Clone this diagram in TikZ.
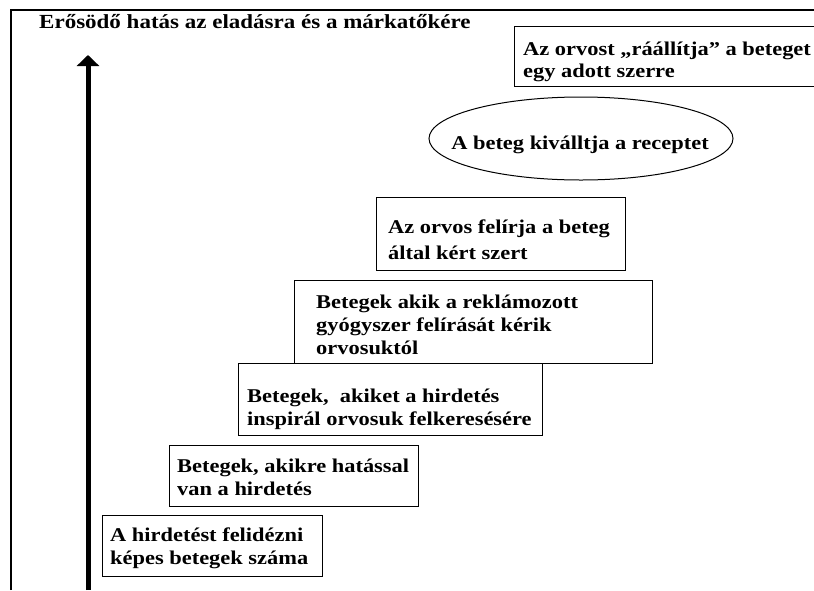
\documentclass[tikz,border=0pt]{standalone}
\usepackage{fontspec}
\setmainfont[FakeStretch=1.15]{Liberation Serif}
\usetikzlibrary{arrows.meta,shapes.geometric}

\tikzset{
  stepbox/.style={draw=black, line width=1pt, fill=white, inner sep=0pt,
    anchor=north west},
  steptext/.style={anchor=north west, inner sep=0pt, align=left,
    font=\fontsize{19.5}{23}\selectfont\bfseries},
  steptextwide/.style={steptext, font=\fontsize{19.5}{26}\selectfont\bfseries},
  titletext/.style={anchor=base west, inner sep=0pt,
    font=\fontsize{20}{23}\selectfont\bfseries},
  frameline/.style={line width=1.4pt, black},
  growarrow/.style={line width=5pt, -{Triangle[length=11pt,width=22pt]}}
}

\begin{document}
\begin{tikzpicture}[x=1pt,y=-1pt]
  \useasboundingbox (0,0) rectangle (814,590);

  % outer frame (top and left edges)
  \coordinate (fTL) at (11,10);
  \coordinate (fTR) at (814,10);
  \coordinate (fBL) at (11,590);
  \draw[frameline] (fBL) -- (fTL) -- (fTR);

  % heading
  \node[titletext] (title) at (39,28)
    {Erősödő hatás az eladásra és a márkatőkére};

  % vertical arrow
  \coordinate (abase) at (88,590);
  \coordinate (atip) at (88,55);
  \draw[growarrow] (abase) -- (atip);

  % staircase of boxes
  \node[stepbox, minimum width=220pt, minimum height=61pt] (b1) at (102,515) {};
  \node[steptext] (t1) at (110,524.9) {\strut A hirdetést felidézni\\képes betegek száma};

  \node[stepbox, minimum width=249pt, minimum height=61pt] (b2) at (169,445) {};
  \node[steptext] (t2) at (177,456.4) {\strut Betegek, akikre hatással\\van a hirdetés};

  \node[stepbox, minimum width=304pt, minimum height=72pt] (b3) at (238,363) {};
  \node[steptext] (t3) at (247,386.4) {\strut Betegek,~ akiket a hirdetés\\inspirál orvosuk felkeresésére};

  \node[stepbox, minimum width=358pt, minimum height=83pt] (b4) at (294,280) {};
  \node[steptext] (t4) at (316,292.4) {\strut Betegek akik a reklámozott\\gyógyszer felírását kérik\\orvosuktól};

  \node[stepbox, minimum width=249pt, minimum height=73pt] (b5) at (376,197) {};
  \node[steptextwide] (t5) at (388,215.3) {\strut Az orvos felírja a beteg\\által kért szert};

  % ellipse step, with its caption set separately so the outline keeps its size
  \node[draw=black, line width=1pt, ellipse, minimum width=304pt, minimum height=83pt,
        inner sep=0pt] (b6) at (581,138.5) {};
  \node[anchor=base, inner sep=0pt, font=\fontsize{19.5}{23}\selectfont\bfseries]
    (t6) at (580,149) {A beteg kiválltja a receptet};

  \node[stepbox, minimum width=310pt, minimum height=60pt] (b7) at (514,26) {};
  \node[steptext, font=\fontsize{19.5}{22}\selectfont\bfseries] (t7) at (523,39.6)
    {\strut Az orvost „ráállítja” a beteget\\egy adott szerre};
\end{tikzpicture}
\end{document}
